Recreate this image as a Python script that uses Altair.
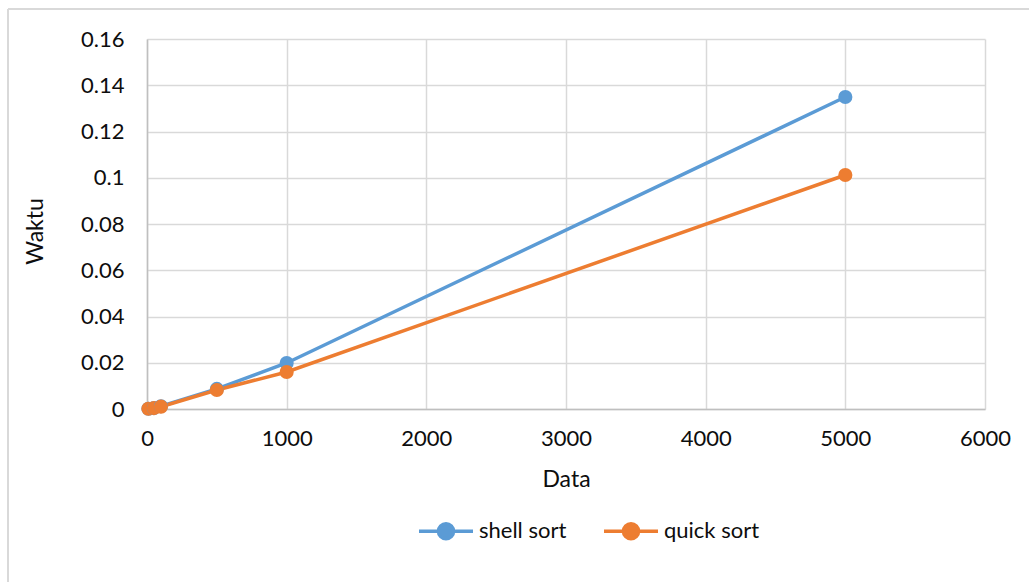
import altair as alt
import pandas as pd

data_n = [10, 50, 100, 500, 1000, 5000]
shell = [0.0001, 0.0004, 0.0012, 0.0087, 0.0199, 0.1349]
quick = [0.0001, 0.0004, 0.0010, 0.0082, 0.0160, 0.1012]
series = ["shell sort", "quick sort"]
colors = ["#5B9BD5", "#ED7D31"]
x_ticks = [0, 1000, 2000, 3000, 4000, 5000, 6000]
y_ticks = [0, 0.02, 0.04, 0.06, 0.08, 0.1, 0.12, 0.14, 0.16]

rows = []
for n, s, q in zip(data_n, shell, quick):
    rows.append({"Data": n, "Waktu": s, "series": series[0]})
    rows.append({"Data": n, "Waktu": q, "series": series[1]})
df = pd.DataFrame(rows)

FONT = "Lato"
FS = 22
TXT = "#0d0d0d"
W, H = 838, 370

color = alt.Color(
    "series:N",
    scale=alt.Scale(domain=series, range=colors),
    legend=alt.Legend(
        title=None,
        orient="none",
        legendX=270,
        legendY=463,
        direction="horizontal",
        symbolType="M-1,0H1M-0.28,0A0.28,0.28,0,1,1,0.28,0A0.28,0.28,0,1,1,-0.28,0Z",
        symbolSize=2916,
        symbolStrokeWidth=3.5,
        symbolOpacity=1,
        labelFontSize=FS,
        labelFont=FONT,
        labelColor=TXT,
        labelOffset=4,
        columnPadding=30,
        padding=0,
    ),
)

x = alt.X(
    "Data:Q",
    scale=alt.Scale(domain=[0, 6000], nice=False),
    axis=alt.Axis(values=x_ticks, format="d", labelFlush=False, title="Data",
                  titleX=W / 2, titleY=70, titleBaseline="middle"),
)
y = alt.Y(
    "Waktu:Q",
    scale=alt.Scale(domain=[0, 0.16], nice=False),
    axis=alt.Axis(values=y_ticks, format=".2~f", title="Waktu", titleX=-112,
                  titleY=192, titleAngle=-90, titleBaseline="middle",
                  titleAlign="center"),
)

lines = alt.Chart(df).mark_line(strokeWidth=3.5).encode(x=x, y=y, color=color)
points = alt.Chart(df).mark_circle(size=200, opacity=1).encode(x=x, y=y, color=color)

border_left = alt.Chart(df).mark_rule(color="#d9d9d9", strokeWidth=1.5).encode(
    x=alt.value(-139), y=alt.value(-30), y2=alt.value(H + 250))
border_top = alt.Chart(df).mark_rule(color="#d9d9d9", strokeWidth=1.5).encode(
    y=alt.value(-30), x=alt.value(-139), x2=alt.value(W + 200))

chart = alt.layer(border_left, border_top, lines, points).properties(
    width=W, height=H,
    autosize=alt.AutoSizeParams(type="none"),
    padding={"left": 147, "top": 39, "right": 44, "bottom": 173},
    background="white",
).configure_view(stroke=None).configure_axis(
    labelFont=FONT, titleFont=FONT, labelFontSize=FS, titleFontSize=23,
    titleFontWeight="normal", labelColor=TXT, titleColor=TXT,
    grid=True, gridColor="#d9d9d9", gridWidth=1.5, ticks=False,
    domainColor="#bfbfbf", domainWidth=1.5,
).configure_axisY(labelPadding=23, labelBaseline="middle").configure_axisX(
    labelPadding=19)

chart.save("out.html", embed_options={"renderer": "svg", "actions": False})
